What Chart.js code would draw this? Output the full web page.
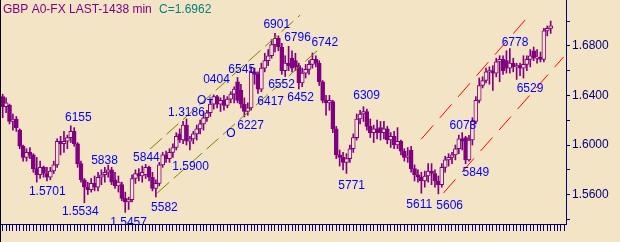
<!DOCTYPE html>
<html>
<head>
<meta charset="utf-8">
<script src="https://cdn.jsdelivr.net/npm/chart.js@4/dist/chart.umd.min.js"></script>
<style>
  html, body { margin: 0; padding: 0; background: #F4E4C6; }
  canvas { display: block; }
</style>
</head>
<body>
<canvas id="fx" width="620" height="242"></canvas>
<script>
(function(){
  'use strict';

  // daily GBP candles
  const opens = [
    1.639,1.631,1.632,1.619,1.621,1.612,1.599,1.590,1.594,1.592,
    1.581,1.576,1.582,1.577,1.574,1.579,1.584,1.603,1.601,1.603,
    1.606,1.611,1.601,1.585,1.572,1.566,1.564,1.569,1.566,1.574,
    1.576,1.578,1.580,1.572,1.567,1.568,1.557,1.554,1.556,1.573,
    1.577,1.575,1.576,1.582,1.574,1.565,1.569,1.584,1.592,1.589,
    1.594,1.598,1.609,1.604,1.616,1.603,1.605,1.609,1.613,1.617,
    1.622,1.626,1.633,1.639,1.633,1.636,1.632,1.637,1.641,1.651,
    1.644,1.633,1.627,1.630,1.659,1.657,1.645,1.662,1.668,1.672,
    1.681,1.686,1.679,1.660,1.666,1.670,1.668,1.664,1.650,1.658,
    1.661,1.665,1.669,1.666,1.651,1.636,1.634,1.635,1.613,1.592,
    1.590,1.586,1.589,1.597,1.606,1.621,1.625,1.627,1.615,1.610,
    1.613,1.614,1.610,1.613,1.604,1.607,1.600,1.603,1.595,1.590,
    1.596,1.581,1.576,1.574,1.571,1.575,1.579,1.577,1.571,1.568,
    1.582,1.588,1.590,1.592,1.597,1.605,1.606,1.588,1.604,1.619,
    1.636,1.648,1.652,1.659,1.660,1.658,1.667,1.669,1.668,1.662,
    1.666,1.663,1.664,1.662,1.665,1.669,1.676,1.670,1.671,1.669,
    1.692,1.694
  ];
  const highs = [
    1.641,1.638,1.633,1.625,1.623,1.613,1.600,1.597,1.598,1.593,
    1.590,1.587,1.583,1.582,1.582,1.587,1.605,1.607,1.611,1.608,
    1.6155,1.614,1.602,1.587,1.573,1.570,1.573,1.575,1.578,1.580,
    1.582,1.5838,1.582,1.578,1.575,1.570,1.562,1.558,1.576,1.580,
    1.581,1.583,1.5844,1.583,1.578,1.572,1.586,1.594,1.595,1.597,
    1.601,1.610,1.613,1.619,1.621,1.607,1.611,1.616,1.620,1.626,
    1.628,1.636,1.6404,1.640,1.638,1.640,1.639,1.643,1.647,1.6545,
    1.649,1.638,1.634,1.663,1.662,1.659,1.666,1.674,1.677,1.685,
    1.6901,1.688,1.682,1.672,1.6796,1.676,1.674,1.666,1.662,1.665,
    1.668,1.6742,1.672,1.668,1.652,1.640,1.640,1.636,1.615,1.596,
    1.594,1.593,1.600,1.609,1.625,1.628,1.6309,1.629,1.621,1.616,
    1.620,1.619,1.619,1.615,1.610,1.611,1.614,1.604,1.597,1.598,
    1.599,1.584,1.580,1.578,1.579,1.585,1.585,1.580,1.575,1.585,
    1.591,1.593,1.594,1.600,1.608,1.610,1.607,1.6078,1.622,1.639,
    1.654,1.655,1.662,1.663,1.664,1.670,1.672,1.672,1.676,1.6778,
    1.670,1.666,1.666,1.672,1.672,1.677,1.679,1.677,1.675,1.694,
    1.696,1.700
  ];
  const lows = [
    1.622,1.626,1.617,1.612,1.611,1.597,1.587,1.587,1.589,1.578,
    1.5701,1.573,1.574,1.571,1.572,1.577,1.582,1.592,1.594,1.597,
    1.602,1.599,1.582,1.570,1.5534,1.560,1.562,1.563,1.563,1.568,
    1.570,1.574,1.568,1.565,1.562,1.555,1.5457,1.548,1.554,1.569,
    1.571,1.570,1.573,1.571,1.563,1.5582,1.567,1.582,1.586,1.586,
    1.590,1.596,1.602,1.601,1.600,1.596,1.601,1.604,1.609,1.612,
    1.619,1.623,1.629,1.630,1.627,1.628,1.630,1.634,1.634,1.634,
    1.630,1.6227,1.624,1.628,1.649,1.6417,1.643,1.659,1.664,1.670,
    1.675,1.676,1.657,1.6552,1.660,1.659,1.660,1.6452,1.647,1.654,
    1.657,1.662,1.663,1.648,1.634,1.624,1.628,1.610,1.589,1.583,
    1.580,1.5771,1.586,1.594,1.604,1.617,1.619,1.612,1.606,1.602,
    1.605,1.604,1.605,1.601,1.598,1.597,1.597,1.592,1.587,1.586,
    1.578,1.571,1.570,1.5611,1.566,1.570,1.568,1.566,1.5606,1.566,
    1.578,1.583,1.585,1.588,1.593,1.596,1.5849,1.587,1.600,1.617,
    1.634,1.646,1.650,1.649,1.644,1.655,1.651,1.657,1.658,1.658,
    1.659,1.6529,1.656,1.654,1.660,1.663,1.668,1.666,1.667,1.667,
    1.688,1.690
  ];
  const closes = [
    1.631,1.634,1.619,1.621,1.614,1.599,1.590,1.594,1.592,1.581,
    1.576,1.582,1.577,1.574,1.579,1.584,1.603,1.601,1.603,1.606,
    1.611,1.601,1.585,1.572,1.566,1.564,1.569,1.566,1.574,1.576,
    1.578,1.580,1.570,1.567,1.570,1.557,1.554,1.556,1.573,1.577,
    1.575,1.578,1.582,1.574,1.565,1.569,1.584,1.592,1.589,1.594,
    1.598,1.607,1.604,1.616,1.603,1.605,1.609,1.613,1.617,1.622,
    1.626,1.633,1.639,1.633,1.636,1.632,1.637,1.641,1.645,1.636,
    1.633,1.627,1.630,1.659,1.657,1.645,1.662,1.668,1.672,1.681,
    1.686,1.679,1.660,1.666,1.664,1.662,1.663,1.650,1.658,1.661,
    1.665,1.669,1.666,1.651,1.636,1.634,1.636,1.613,1.592,1.590,
    1.586,1.589,1.597,1.606,1.621,1.625,1.627,1.615,1.610,1.613,
    1.610,1.610,1.613,1.604,1.607,1.600,1.603,1.595,1.590,1.591,
    1.581,1.576,1.574,1.571,1.575,1.579,1.577,1.571,1.568,1.582,
    1.588,1.590,1.592,1.597,1.605,1.603,1.588,1.604,1.619,1.636,
    1.648,1.652,1.659,1.660,1.658,1.667,1.669,1.660,1.662,1.666,
    1.663,1.664,1.662,1.665,1.669,1.672,1.670,1.671,1.669,1.692,
    1.694,1.6962
  ];
  const emptySlots = 4;

  // right axis
  const axisTicks = [1.54, 1.56, 1.58, 1.60, 1.62, 1.64, 1.66, 1.68, 1.70];
  const axisLabels = ['1.5600', '1.6000', '1.6400', '1.6800'];

  // swing labels: text, bar index, price
  const notes = [
    ['6155', 18.3, 1.6194], ['1.5701', 7.7, 1.5597], ['5838', 26, 1.5847],
    ['1.5534', 17.4, 1.5435], ['1.5457', 31.6, 1.5347], ['5844', 38.3, 1.5871],
    ['5582', 43.6, 1.5468], ['1.5900', 49.8, 1.5798], ['1.3186', 48.6, 1.6234],
    ['O+', 57.1, 1.6331], ['0404', 58.9, 1.6500], ['6545', 66.3, 1.6581],
    ['6901', 76.6, 1.6944], ['6796', 82.7, 1.6839], ['6742', 90.7, 1.6798],
    ['6552', 78, 1.6460], ['6417', 74.8, 1.6323], ['6452', 83.6, 1.6355],
    ['6309', 103, 1.6371], ['6227', 68.9, 1.6129], ['O', 65.7, 1.6065],
    ['5771', 98.6, 1.5645], ['5611', 118.6, 1.5492], ['5606', 127.4, 1.5484],
    ['5849', 135.1, 1.5750], ['6078', 131.3, 1.6129], ['6778', 146.6, 1.6798],
    ['6529', 151, 1.6427]
  ];

  // channels: [bar, price] -> [bar, price]
  const oliveLines = [
    [[43.3, 1.5968], [87.4, 1.7048]],
    [[45.4, 1.5613], [93.3, 1.6782]]
  ];
  const redLines = [
    [[123, 1.6048], [154.5, 1.7040]],
    [[129.5, 1.5613], [164.8, 1.6710]]
  ];

  const PURPLE = '#800080';
  const NAVY   = '#000080';
  const CREAM  = '#F4E4C6';
  const FONT   = '"Liberation Sans", Arial, sans-serif';

  const total = closes.length + emptySlots;
  const days = Array.from({length: total}, (_, i) => String(i + 1));
  const pad = Array(emptySlots).fill(null);
  const wicks = lows.map((l, i) => [l, highs[i]]).concat(pad);
  const bodies = opens.map((o, i) => [o, closes[i]]).concat(pad);
  const bodyFill = opens.map((o, i) => closes[i] < o ? PURPLE : CREAM).concat(pad.map(() => CREAM));

  function noPad(s){
    s.paddingTop = 0; s.paddingBottom = 0; s.paddingLeft = 0; s.paddingRight = 0;
  }

  function drawSegs(ctx, xs, ys, segs, color, dash){
    ctx.save();
    ctx.strokeStyle = color;
    ctx.lineWidth = 1;
    ctx.setLineDash(dash);
    segs.forEach(s => {
      ctx.beginPath();
      ctx.moveTo(xs.getPixelForValue(s[0][0]), ys.getPixelForValue(s[0][1]));
      ctx.lineTo(xs.getPixelForValue(s[1][0]), ys.getPixelForValue(s[1][1]));
      ctx.stroke();
    });
    ctx.restore();
  }

  const overlay = {
    id: 'overlay',
    beforeDraw(chart){
      const ctx = chart.ctx;
      ctx.save();
      ctx.fillStyle = CREAM;
      ctx.fillRect(0, 0, chart.width, chart.height);
      ctx.restore();
    },
    afterDatasetsDraw(chart){
      const ctx = chart.ctx, xs = chart.scales.x, ys = chart.scales.y, a = chart.chartArea;
      drawSegs(ctx, xs, ys, oliveLines, '#808000', [16, 6]);
      drawSegs(ctx, xs, ys, redLines, '#ff0000', [18, 10]);

      ctx.save();
      ctx.beginPath();
      ctx.rect(a.left, a.top, a.right - a.left, a.bottom - a.top);
      ctx.clip();
      ctx.fillStyle = '#0000ff';
      ctx.font = '12px ' + FONT;
      ctx.textBaseline = 'alphabetic';
      notes.forEach(n => {
        ctx.fillText(n[0], xs.getPixelForValue(n[1]), ys.getPixelForValue(n[2]));
      });
      ctx.restore();
    },
    afterDraw(chart){
      const ctx = chart.ctx;
      ctx.save();
      ctx.font = '12px ' + FONT;
      ctx.textBaseline = 'alphabetic';
      ctx.fillStyle = PURPLE;
      ctx.fillText('GBP A0-FX LAST-1438 min', 3, 13);
      ctx.fillStyle = '#008080';
      ctx.fillText('C=1.6962', 159, 13);
      ctx.fillStyle = '#000000';
      ctx.fillRect(0, 0, 1, chart.height);
      ctx.restore();
    }
  };

  new Chart(document.getElementById('fx'), {
    type: 'bar',
    data: {
      labels: days,
      datasets: [
        { data: bodies, backgroundColor: bodyFill, borderColor: PURPLE, borderWidth: 1,
          borderSkipped: false, barThickness: 4, grouped: false, order: 1 },
        { data: wicks, backgroundColor: PURPLE, borderWidth: 0,
          barThickness: 1, grouped: false, order: 2 }
      ]
    },
    options: {
      responsive: false,
      animation: false,
      events: [],
      layout: { padding: { left: 1, top: 0, right: 0, bottom: 0 } },
      plugins: { legend: { display: false }, tooltip: { enabled: false } },
      scales: {
        x: {
          offset: true,
          afterFit: s => { s.height = 18; noPad(s); },
          border: { color: NAVY, width: 1 },
          grid: { drawOnChartArea: false, color: NAVY, tickLength: 7, offset: false },
          ticks: { display: false, autoSkip: false }
        },
        y: {
          position: 'right',
          min: 1.53629, max: 1.71694,
          afterBuildTicks: s => { s.ticks = axisTicks.map(v => ({ value: v })); },
          afterFit: s => { s.width = 54; noPad(s); },
          border: { color: NAVY, width: 1 },
          grid: { drawOnChartArea: false, color: NAVY, tickLength: 4 },
          ticks: {
            color: NAVY, padding: 2,
            font: { size: 12, family: FONT },
            callback: v => axisLabels.includes(Number(v).toFixed(4)) ? Number(v).toFixed(4) : ''
          }
        }
      }
    },
    plugins: [overlay]
  });
})();
</script>
</body>
</html>
